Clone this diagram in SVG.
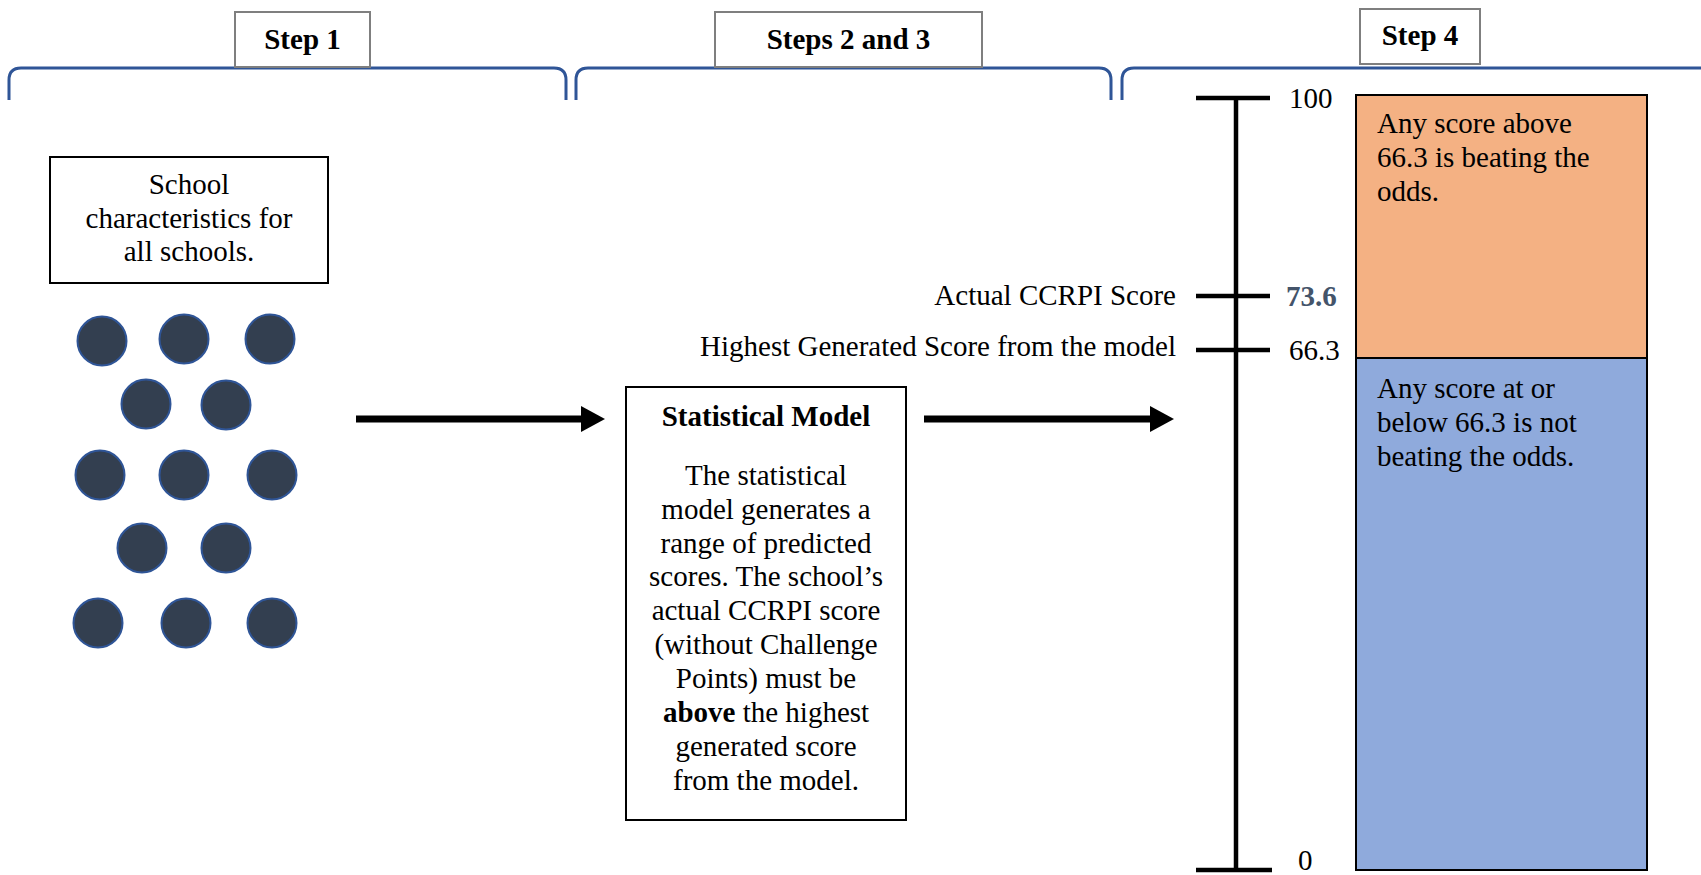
<svg xmlns="http://www.w3.org/2000/svg" width="1701" height="875" viewBox="0 0 1701 875">
<style>
text{font-family:"Liberation Serif","Times New Roman",serif;font-size:29px;fill:#000}
.b{font-weight:bold}
.c{text-anchor:middle}
.e{text-anchor:end}
.brace{fill:none;stroke:#2F5597;stroke-width:3}
.lbl{fill:#fff;stroke:#7F7F7F;stroke-width:2}
.box{fill:#fff;stroke:#000;stroke-width:2}
.dot{fill:#333F50;stroke:#2F5597;stroke-width:2}
.axis{stroke:#000;stroke-width:4.5;fill:none}
.arr{stroke:#000;stroke-width:7;fill:none}
</style>
<defs>
<marker id="ah" markerUnits="userSpaceOnUse" markerWidth="26" markerHeight="28" refX="0" refY="13" orient="auto">
<path d="M0,0 L24,13 L0,26 z" fill="#000"/>
</marker>
</defs>
<g id="braces">
<path class="brace" d="M9,100 L9,80 Q9,68 21,68 L554,68 Q566,68 566,80 L566,100"/>
<path class="brace" d="M576,100 L576,80 Q576,68 588,68 L1099,68 Q1111,68 1111,80 L1111,100"/>
<path class="brace" d="M1122,100 L1122,80 Q1122,68 1134,68 L1705,68"/>
</g>
<g id="step1"><rect class="lbl" x="235" y="12" width="135" height="55"/><text class="b c" x="302.5" y="49">Step 1</text></g>
<g id="step23"><rect class="lbl" x="715" y="12" width="267" height="55"/><text class="b c" x="848.5" y="49">Steps 2 and 3</text></g>
<g id="step4"><rect class="lbl" x="1360" y="9" width="120" height="55"/><text class="b c" x="1420" y="45">Step 4</text></g>
<g id="characteristics">
<rect class="box" x="50" y="157" width="278" height="126"/>
<text class="c" x="189" y="194">School</text>
<text class="c" x="189" y="228">characteristics for</text>
<text class="c" x="189" y="261">all schools.</text>
</g>
<g id="schools">
<circle class="dot" cx="102" cy="341" r="24.5"/>
<circle class="dot" cx="184" cy="339" r="24.5"/>
<circle class="dot" cx="270" cy="339" r="24.5"/>
<circle class="dot" cx="146" cy="404" r="24.5"/>
<circle class="dot" cx="226" cy="405" r="24.5"/>
<circle class="dot" cx="100" cy="475" r="24.5"/>
<circle class="dot" cx="184" cy="475" r="24.5"/>
<circle class="dot" cx="272" cy="475" r="24.5"/>
<circle class="dot" cx="142" cy="548" r="24.5"/>
<circle class="dot" cx="226" cy="548" r="24.5"/>
<circle class="dot" cx="98" cy="623" r="24.5"/>
<circle class="dot" cx="186" cy="623" r="24.5"/>
<circle class="dot" cx="272" cy="623" r="24.5"/>
</g>
<g id="model">
<rect class="box" x="626" y="387" width="280" height="433"/>
<text class="b c" x="766" y="426">Statistical Model</text>
<text class="c" x="766" y="485">The statistical</text>
<text class="c" x="766" y="519">model generates a</text>
<text class="c" x="766" y="553">range of predicted</text>
<text class="c" x="766" y="586">scores. The school’s</text>
<text class="c" x="766" y="620">actual CCRPI score</text>
<text class="c" x="766" y="654">(without Challenge</text>
<text class="c" x="766" y="688">Points) must be</text>
<text class="c" x="766" y="722"><tspan class="b">above</tspan> the highest</text>
<text class="c" x="766" y="756">generated score</text>
<text class="c" x="766" y="790">from the model.</text>
</g>
<g id="connectors">
<line class="arr" x1="356" y1="419" x2="581" y2="419" marker-end="url(#ah)"/>
<line class="arr" x1="924" y1="419" x2="1150" y2="419" marker-end="url(#ah)"/>
</g>
<g id="scale">
<line class="axis" x1="1236" y1="96" x2="1236" y2="871"/>
<line class="axis" x1="1196" y1="98" x2="1270" y2="98"/>
<line class="axis" x1="1196" y1="296" x2="1270" y2="296"/>
<line class="axis" x1="1196" y1="350" x2="1270" y2="350"/>
<line class="axis" x1="1196" y1="870" x2="1272" y2="870"/>
<text x="1289" y="108">100</text>
<text class="b" x="1286" y="306" style="fill:#44546A">73.6</text>
<text x="1289" y="360">66.3</text>
<text x="1298" y="870">0</text>
<text class="e" x="1176" y="305">Actual CCRPI Score</text>
<text class="e" x="1176" y="356">Highest Generated Score from the model</text>
</g>
<g id="above">
<rect x="1356" y="95" width="291" height="263" fill="#F4B183" stroke="#000" stroke-width="2"/>
<text x="1377" y="133">Any score above</text>
<text x="1377" y="167">66.3 is beating the</text>
<text x="1377" y="201">odds.</text>
</g>
<g id="below">
<rect x="1356" y="358" width="291" height="512" fill="#8FAADC" stroke="#000" stroke-width="2"/>
<text x="1377" y="398">Any score at or</text>
<text x="1377" y="432">below 66.3 is not</text>
<text x="1377" y="466">beating the odds.</text>
</g>
</svg>
